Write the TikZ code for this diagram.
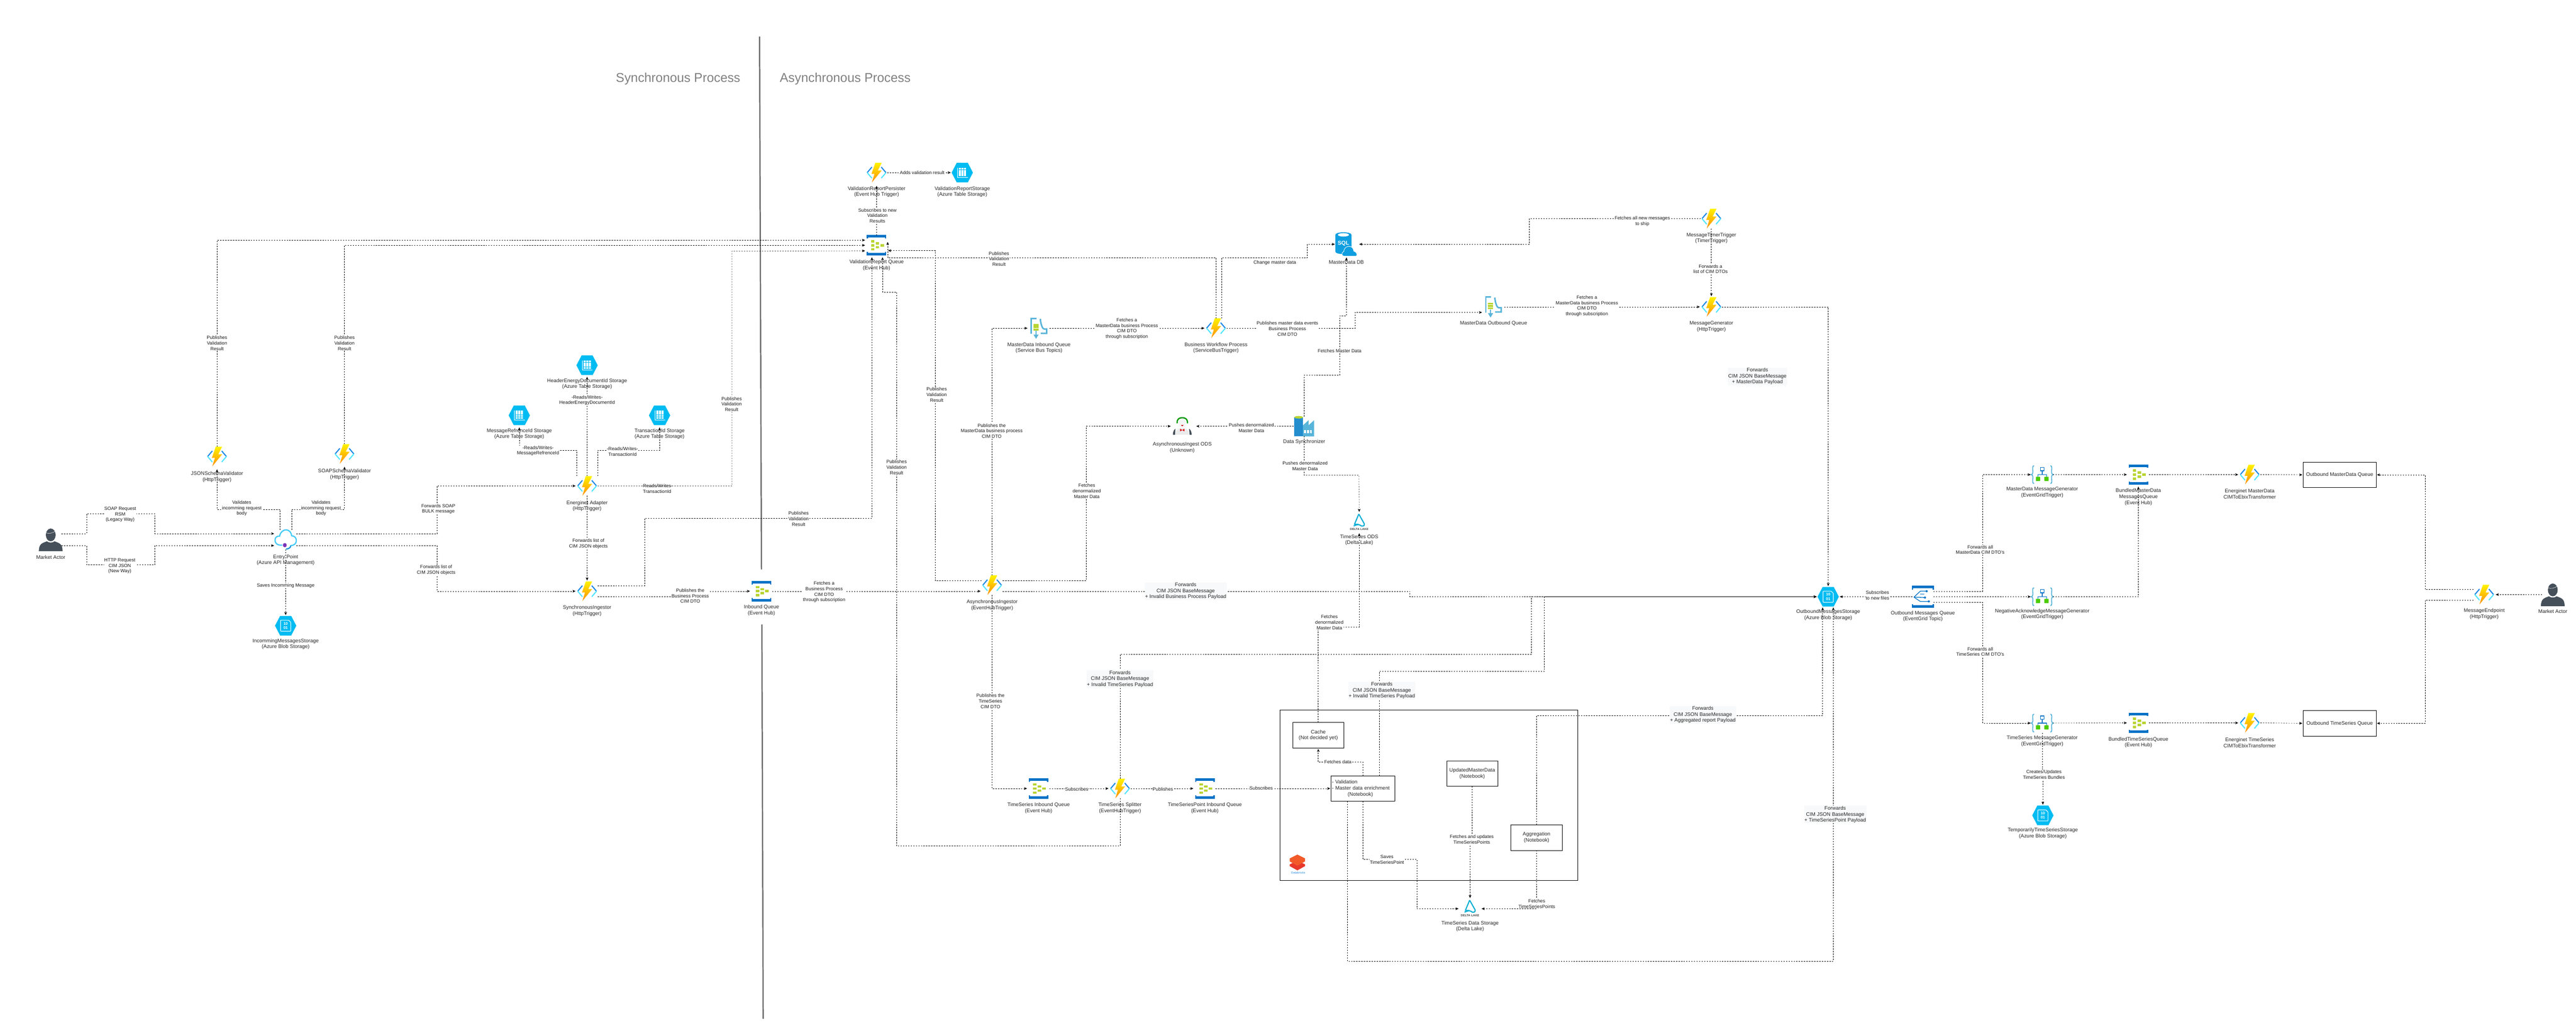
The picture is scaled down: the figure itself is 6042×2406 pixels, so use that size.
\documentclass[tikz,border=0pt]{standalone}
\usepackage{fontspec}
\setmainfont{Liberation Sans}
\usetikzlibrary{arrows.meta}
\definecolor{fnblue}{HTML}{1E88E5}
\definecolor{fncyan}{HTML}{50E6FF}
\definecolor{hubblue}{HTML}{0072C6}
\definecolor{hubgreen}{HTML}{B8D432}
\definecolor{hexcyan}{HTML}{00BCF2}
\definecolor{sbblue}{HTML}{59B4D9}
\definecolor{sqlblue}{HTML}{0F9EE0}
\definecolor{actorgrey}{HTML}{46505A}
\definecolor{deltacyan}{HTML}{00ADD4}
\definecolor{dbxred}{HTML}{E8392B}
\definecolor{dbxorange}{HTML}{F25A29}
\definecolor{dbxblue}{HTML}{2D8CE0}
\definecolor{fwdbg}{HTML}{F8F9FA}
\tikzset{
	iconbox/.style={inner sep=0pt,outer sep=0pt,minimum width=50pt,minimum height=46pt},
	nodetext/.style={font=\fontsize{12}{14}\selectfont,align=center,text=black!85,inner sep=0pt},
	nbox/.style={draw,line width=0.9pt,inner sep=2pt,outer sep=0pt,font=\fontsize{12}{14}\selectfont,align=center,text=black!85},
	flow/.style={line width=0.75pt,dash pattern=on 3pt off 3pt,shorten >=2pt,-{Stealth[length=7pt,width=6pt,inset=1.5pt]}},
	elabel/.style={font=\fontsize{11}{13}\selectfont,align=center,fill=white,inner sep=1pt,text=black!90},
	fwdlabel/.style={font=\fontsize{12}{14}\selectfont,align=center,fill=fwdbg,inner sep=1pt,text=black!85},
	divider/.style={line width=3pt,color=black!58},
	azfn/.pic={
		\draw[line width=2.6pt,fnblue] (-11,-13) -- (-22,0);
		\draw[line width=2.6pt,fncyan] (-22,0) -- (-11,13);
		\draw[line width=2.6pt,fnblue] (11,-13) -- (22,0);
		\draw[line width=2.6pt,fncyan] (22,0) -- (11,13);
		\shade[top color=yellow!90!orange,bottom color=orange!90!yellow] (-3,-23) -- (12,-23) -- (3,-5) -- (12,-5) -- (-11,23) -- (-5,3) -- (-12,3) -- cycle;
	},
	hubicon/.pic={
		\fill[hubblue] (-23,-24) rectangle (23,-18);
		\fill[hubblue] (-23,-18) rectangle (-20,-16);
		\fill[hubblue] (20,-18) rectangle (23,-16);
		\fill[hubblue] (-23,24) rectangle (23,18);
		\fill[hubblue] (-23,18) rectangle (-20,16);
		\fill[hubblue] (20,18) rectangle (23,16);
		\foreach \px/\py in {-9/-9.5,-9/0,-9/9.5,2/-4.7,2/4.7,13/0}
			\fill[hubgreen] (\px-4,\py-2.8) rectangle (\px+4,\py+2.8);
	},
	hexbase/.pic={
		\fill[hexcyan] (-25,0) -- (-13,-23) -- (13,-23) -- (25,0) -- (13,23) -- (-13,23) -- cycle;
	},
	blobicon/.pic={
		\pic {hexbase};
		\draw[white,line width=1.2pt,rounded corners=1pt] (-12,-13) -- (7,-13) -- (12,-8) -- (12,13) -- (-12,13) -- cycle;
		\node[font=\fontsize{9}{10}\selectfont\bfseries,text=white,align=center,inner sep=0pt] (t) at (0,0) {10\\01};
	},
	tableicon/.pic={
		\pic {hexbase};
		\draw[white,line width=1.2pt] (-11,-11) -- (-11,11) -- (13,11);
		\foreach \px in {-8,-2,4}
			\foreach \py in {-11,-6,-1,4}
				\fill[white] (\px,\py) rectangle (\px+5,\py+4);
	},
	apimicon/.pic={
		\draw[line width=2.8pt,fncyan!70!fnblue] (-8,13) .. controls (-20,14) and (-25,8) .. (-25,1) .. controls (-25,-6) and (-19,-9) .. (-14,-8) .. controls (-13,-18) and (-5,-23) .. (1,-23) .. controls (9,-23) and (14,-15) .. (14,-9) .. controls (21,-9) and (25,-4) .. (25,2) .. controls (25,9) and (20,14) .. (12,14);
		\draw[line width=2.8pt,hubblue!70!fncyan] (1,22) .. controls (8,22) and (12,18) .. (12,14);
		\fill[violet!70!blue!80] (-2,13) ellipse (4.5 and 5);
	},
	topicq/.pic={
		\draw[line width=3.5pt,sbblue] (-18,13) -- (-18,-23) -- (-6,-23);
		\draw[line width=3.5pt,sbblue] (3,-22) .. controls (4,-10) and (8,2) .. (12,2) -- (18,2) -- (18,12) -- (4,12);
		\foreach \py in {-10,-4.5,1}
			\fill[hubgreen] (-13,\py) rectangle (-1,\py+4.5);
		\draw[line width=3pt,sbblue] (-7,6) -- (-7,16);
		\fill[sbblue] (-13,15) -- (-1,15) -- (-7,25) -- cycle;
	},
	actoricon/.pic={
		\fill[actorgrey] (-28,27) .. controls (-27,10) and (-22,9) .. (-9,4) .. controls (-4,8) and (4,8) .. (9,4) .. controls (22,9) and (27,10) .. (28,27) -- cycle;
		\fill[actorgrey] (0,-11) ellipse (11.5 and 15);
		\draw[white,line width=0.6pt] (-11,-16) .. controls (-5,-13) and (4,-15) .. (11,-20);
	},
	sqlicon/.pic={
		\fill[sqlblue] (-26,-22) -- (-26,17) .. controls (-26,22) and (-15,23) .. (-7,23) .. controls (2,23) and (12,22) .. (12,17) -- (12,-22) .. controls (12,-30) and (-26,-30) .. (-26,-22) -- cycle;
		\fill[white] (-7,-22) ellipse (13 and 4);
		\node[font=\fontsize{13}{13}\selectfont\bfseries,text=white,inner sep=0pt] (t) at (-7,-2) {SQL};
		\fill[sqlblue,draw=white,line width=1pt] (-6,28) .. controls (-12,28) and (-12,18) .. (-6,17) .. controls (-6,8) and (2,4) .. (8,5) .. controls (14,6) and (17,12) .. (17,16) .. controls (24,17) and (28,28) .. (22,28) -- cycle;
	},
	deltaicon/.pic={
		\draw[line width=2.6pt,deltacyan,line join=round] (-1,-20) -- (-11,4) -- (-2,4);
		\draw[line width=2.6pt,deltacyan,line join=round] (-1,-20) -- (12,3) .. controls (13,9) and (6,10) .. (2,6) .. controls (-2,3) and (-8,6) .. (-13,8);
		\node[font=\fontsize{7}{7}\selectfont\bfseries,text=black!75,inner sep=0pt] (t) at (0,16) {DELTA LAKE};
	},
	factoryicon/.pic={
		\fill[sbblue] (-3,24) -- (-3,-2) -- (10,-14) -- (10,-2) -- (23,-14) -- (23,24) -- cycle;
		\fill[hubblue!60!sbblue] (-23,-21) rectangle (-3,24);
		\fill[hubgreen] (-13,-21) ellipse (10 and 3);
		\foreach \px in {0,7,14}
			\fill[white] (\px,9) rectangle (\px+4,16);
	},
	logicicon/.pic={
		\draw[line width=2.2pt,sbblue] (-19,-21) .. controls (-24,-21) and (-22,-14) .. (-22,-6) .. controls (-22,-2) and (-24,0) .. (-26,0) .. controls (-24,0) and (-22,2) .. (-22,6) .. controls (-22,14) and (-24,21) .. (-19,21);
		\draw[line width=2.2pt,sbblue] (19,-21) .. controls (24,-21) and (22,-14) .. (22,-6) .. controls (22,-2) and (24,0) .. (26,0) .. controls (24,0) and (22,2) .. (22,6) .. controls (22,14) and (24,21) .. (19,21);
		\draw[line width=1.4pt,hubblue] (-10,6) -- (-10,0) -- (10,0) -- (10,6);
		\draw[line width=1.4pt,hubblue] (0,0) -- (0,-9);
		\draw[line width=1.8pt,hubblue,fill=white] (-4,-17) rectangle (4,-9);
		\fill[green!50!lime!80!black,rounded corners=1pt] (-15,5) rectangle (-5,15);
		\fill[green!50!lime!80!black,rounded corners=1pt] (5,5) rectangle (15,15);
	},
	gridicon/.pic={
		\fill[hubblue] (-26,-26) rectangle (26,-20);
		\fill[hubblue] (-26,-20) rectangle (-23,-17);
		\fill[hubblue] (23,-20) rectangle (26,-17);
		\fill[hubblue] (-26,26) rectangle (26,20);
		\fill[hubblue] (-26,20) rectangle (-23,17);
		\fill[hubblue] (23,20) rectangle (26,17);
		\draw[line width=1.6pt,hubblue] (-21,1) -- (-6,-13) -- (9,-13);
		\draw[line width=1.6pt,hubblue] (-21,1) -- (5,2);
		\draw[line width=1.6pt,hubblue] (-21,1) -- (-6,11) -- (14,11);
		\draw[line width=1.6pt,hubblue] (-6,-6) -- (3,-6);
		\foreach \px/\py in {9/-13,5/2,14/11}
			\fill[hubblue] (\px,\py) circle (2.5);
	},
	jokericon/.pic={
		\fill[black!8] (-15,20) .. controls (-16,8) and (-8,4) .. (0,4) .. controls (8,4) and (16,8) .. (15,20) -- cycle;
		\fill[actorgrey] (-22,20) .. controls (-22,14) and (-20,8) .. (-16,6) -- (-17,20) -- cycle;
		\fill[actorgrey] (22,20) .. controls (22,14) and (20,8) .. (16,6) -- (17,20) -- cycle;
		\fill[black!4] (0,-8) ellipse (9 and 11);
		\draw[line width=3pt,green!60!black] (-12,-7) .. controls (-13,-16) and (-8,-20) .. (0,-20) .. controls (8,-20) and (13,-16) .. (12,-7);
		\fill[red!80!black] (-3,-3) -- (3,-3) -- (0,0) -- cycle;
		\fill[red!85!black] (-5,6) -- (0,9) -- (5,6) -- (5,12) -- (0,9) -- (-5,12) -- cycle;
	},
	dbxicon/.pic={
		\fill[dbxred] (0,-4) -- (18,5) -- (18,9) -- (0,19) -- (-18,9) -- (-18,5) -- cycle;
		\fill[dbxorange] (0,-18) -- (18,-9) -- (18,-2) -- (0,8) -- (-18,-2) -- (-18,-9) -- cycle;
	},
}
\newcommand{\azicon}[6]{
	\node[iconbox] (#2) at (#3,#4) {};
	\pic (#2ic) at (#2) {#1};
	\node[nodetext] (#2txt) at (#3,#5) {#6};
}

\begin{document}
\begin{tikzpicture}[x=1pt,y=-1pt]
	\useasboundingbox (0,0) rectangle (6042,2406);
	%%%%% PROCESS SPLIT %%%%%
	\coordinate (divtop) at (1781.5,86);
	\coordinate (divmid) at (1786,1336);
	\coordinate (divlow) at (1787,1465);
	\coordinate (divend) at (1790,2390);
	\draw[divider] (divtop) -- (divmid);
	\draw[divider] (divlow) -- (divend);
	\node[font=\fontsize{30}{34}\selectfont,text=black!50,inner sep=0pt] (synctitle) at (1590.5,185) {Synchronous Process};
	\node[font=\fontsize{30}{34}\selectfont,text=black!50,inner sep=0pt] (asynctitle) at (1982.5,185) {Asynchronous Process};

	%%%%% ICONS %%%%%
	\azicon{actoricon}{actorl}{119}{1266}{1307}{Market Actor}
	\azicon{azfn}{jsonfn}{509}{1071}{1119}{JSONSchemaValidator\\(HttpTrigger)}
	\azicon{azfn}{soapfn}{808}{1065}{1113}{SOAPSchemaValidator\\(HttpTrigger)}
	\azicon{apimicon}{entry}{670}{1266}{1314}{Entry Point\\(Azure API Management)}
	\azicon{blobicon}{inblob}{670}{1468}{1511}{IncommingMessagesStorage\\(Azure Blob Storage)}
	\azicon{tableicon}{headertbl}{1377}{857}{901}{HeaderEnergyDocumentId Storage\\(Azure Table Storage)}
	\azicon{tableicon}{msgtbl}{1218}{974.5}{1018}{MessageRefrenceId Storage\\(Azure Table Storage)}
	\azicon{tableicon}{txtbl}{1547}{974.5}{1018}{TransactionId Storage\\(Azure Table Storage)}
	\azicon{azfn}{adapter}{1377}{1140}{1187}{Energinet Adapter\\(HttpTrigger)}
	\azicon{azfn}{sync}{1377}{1387}{1433}{SynchronousIngestor\\(HttpTrigger)}
	\azicon{hubicon}{inq}{1786}{1387}{1432}{Inbound Queue\\(Event Hub)}
	\azicon{azfn}{persister}{2056}{405}{450}{ValidationReportPersister\\(Event Hub Trigger)}
	\azicon{tableicon}{vrstore}{2257}{405}{450}{ValidationReportStorage\\(Azure Table Storage)}
	\azicon{hubicon}{vrq}{2056}{575.5}{622}{ValidationReport Queue\\(Event Hub)}
	\azicon{topicq}{mdinq}{2437}{770}{816}{MasterData Inbound Queue\\(Service Bus Topics)}
	\azicon{azfn}{bwf}{2852}{770}{816}{Business Workflow Process\\(ServiceBusTrigger)}
	\azicon{sqlicon}{mddb}{3158}{573}{615}{MasterData DB}
	\azicon{azfn}{timer}{4014}{513}{559}{MessageTimerTrigger\\(TimerTrigger)}
	\azicon{azfn}{msggen}{4014}{720}{766}{MessageGenerator\\(HttpTrigger)}
	\azicon{topicq}{mdoutq}{3503}{720}{759}{MasterData Outbound Queue}
	\azicon{factoryicon}{dsync}{3059}{1000}{1036.6}{Data Synchronizer}
	\azicon{jokericon}{ods}{2773}{1000}{1050}{AsynchronousIngest ODS\\(Unknown)}
	\azicon{azfn}{asynci}{2327}{1373}{1420}{AsynchronousIngestor\\(EventHubTrigger)}
	\azicon{deltaicon}{tsods}{3188}{1226}{1267}{TimeSeries ODS\\(Delta Lake)}
	\azicon{hubicon}{tsinq}{2436}{1850}{1896}{TimeSeries Inbound Queue\\(Event Hub)}
	\azicon{azfn}{split}{2627}{1850}{1896}{TimeSeries Splitter\\(EventHubTrigger)}
	\azicon{hubicon}{tspq}{2826}{1850}{1896}{TimeSeriesPoint Inbound Queue\\(Event Hub)}
	\azicon{deltaicon}{tsstore}{3448}{2132}{2173}{TimeSeries Data Storage\\(Delta Lake)}
	\azicon{blobicon}{outstore}{4288}{1400}{1442.6}{OutboundMessagesStorage\\(Azure Blob Storage)}
	\azicon{gridicon}{topic}{4510}{1400}{1446}{Outbound Messages Queue\\(EventGrid Topic)}
	\azicon{logicicon}{mdgen}{4790}{1113.5}{1155.6}{MasterData MessageGenerator\\(EventGridTrigger)}
	\azicon{logicicon}{nagen}{4790}{1400}{1441}{NegativeAcknowledgeMessageGenerator\\(EventGridTrigger)}
	\azicon{logicicon}{tsgen}{4790}{1696.5}{1738.5}{TimeSeries MessageGenerator\\(EventGridTrigger)}
	\azicon{hubicon}{bmd}{5015.5}{1113.5}{1166}{BundledMasterData\\MessagesQueue\\(Event Hub)}
	\azicon{hubicon}{bts}{5015.5}{1696}{1741.7}{BundledTimeSeriesQueue\\(Event Hub)}
	\azicon{blobicon}{tmpstore}{4791.5}{1913}{1955}{TemporarilyTimeSeriesStorage\\(Azure Blob Storage)}
	\azicon{azfn}{emd}{5276.6}{1113.5}{1159}{Energinet MasterData\\CIMToEbixTransformer}
	\azicon{azfn}{ets}{5276.6}{1696}{1742.6}{Energinet TimeSeries\\CIMToEbixTransformer}
	\azicon{azfn}{endpoint}{5826.6}{1395}{1440.6}{MessageEndpoint\\(HttpTrigger)}
	\azicon{actoricon}{actorr}{5987.5}{1395}{1433.7}{Market Actor}

	%%%%% BOXES %%%%%
	\node[nbox,minimum width=699pt,minimum height=400pt] (dbxarea) at (3351.5,1866) {};
	\node[nbox,minimum width=120pt,minimum height=60pt] (cache) at (3092,1725) {Cache\\(Not decided yet)};
	\node[nbox,minimum width=150pt,minimum height=60pt,text width=146pt,align=left] (validbox) at (3197,1850) {- Validation\\- Master data enrichment\\\hspace*{37pt}(Notebook)};
	\node[nbox,minimum width=120pt,minimum height=60pt] (updmd) at (3453,1815) {UpdatedMasterData\\(Notebook)};
	\node[nbox,minimum width=120pt,minimum height=60pt] (agg) at (3604,1965) {Aggregation\\(Notebook)};
	\node[nbox,minimum width=171pt,minimum height=60pt] (obmd) at (5487.5,1114) {Outbound MasterData Queue};
	\node[nbox,minimum width=171pt,minimum height=60pt] (obts) at (5487.5,1697) {Outbound TimeSeries Queue};
	\node[iconbox] (dbxlogo) at (3043,2023) {};
	\pic at (dbxlogo) {dbxicon};
	\node[font=\fontsize{7}{8}\selectfont,text=dbxblue,inner sep=0pt] (dbxlogotxt) at (3045,2048) {Databricks};

	%%%%% SYNCHRONOUS SIDE %%%%%
	\draw[flow] ([yshift=14pt]actorl.east) -| (203,1205) -| (363,1252) -- ([yshift=14pt]entry.west);
	\draw[flow] ([yshift=-14pt]actorl.east) -| (203,1325) -| (363,1280) -- ([yshift=-14pt]entry.west);
	\draw[flow] ([xshift=-13pt]entry.north) |- (509,1195) -- ([yshift=-5pt]jsonfn.south);
	\draw[flow] ([xshift=14pt]entry.north) |- (808,1195) -- ([yshift=-5pt]soapfn.south);
	\draw[flow] (entry.south) -- (inblob.north);
	\draw[flow] ([yshift=14pt]entry.east) -| (1025,1140) -- (adapter.west);
	\draw[flow] ([yshift=-14pt]entry.east) -| (1025,1387) -- (sync.west);
	\draw[flow] (adapter.north) -- ([yshift=-2pt]headertbl.south);
	\draw[flow] ([xshift=-25pt]adapter.north) |- (1218,1056) -- ([yshift=-3pt]msgtbl.south);
	\draw[flow] ([xshift=25pt]adapter.north) |- (1547,1056) -- ([yshift=-3pt]txtbl.south);
	\draw[flow] (adapter.east) -| (1717,589) -- ([yshift=-13pt]vrq.west);
	\draw[flow] (jsonfn.north) |- ([yshift=12pt]vrq.west);
	\draw[flow] (soapfn.north) |- (vrq.west);
	\draw[flow] (adapter.south) -- (sync.north);
	\draw[flow] ([yshift=13pt]sync.east) -| (1512,1216) -| ([xshift=-11pt,yshift=-3pt]vrq.south);
	\draw[flow] ([yshift=-13pt]sync.east) -| (1619,1387) -- (inq.west);
	\draw[flow] (inq.east) -- ([yshift=-14pt]asynci.west);

	%%%%% ASYNCHRONOUS SIDE %%%%%
	\draw[flow] ([yshift=11pt]asynci.west) -| (2193,588) -- ([yshift=-12.5pt]vrq.east);
	\draw[flow] (asynci.north) |- (mdinq.west);
	\draw[flow] ([yshift=11pt]asynci.east) -| (2548,1000) -- (ods.west);
	\draw[flow] (dsync.west) -- ([xshift=6pt]ods.east);
	\draw[flow] ([yshift=-14pt]asynci.east) -- (3307,1387) |- (outstore.west);
	\draw[flow] (asynci.south) |- (tsinq.west);
	\draw[flow] (tsinq.east) -- (split.west);
	\draw[flow] (split.east) -- (tspq.west);
	\draw[flow] (tspq.east) -- (validbox.west);
	\draw[flow] (split.north) |- (3592,1535) |- (outstore.west);
	\draw[flow] (split.south) |- (2103,1985) |- (2070,685) -- ([xshift=14pt,yshift=-3pt]vrq.south);
	\draw[flow] (vrq.north) -- ([yshift=-6pt]persister.south);
	\draw[flow] (persister.east) -- (vrstore.west);
	\draw[flow] (bwf.north) |- (2082,605) -- ([xshift=1pt,yshift=10pt]vrq.east);
	\draw[flow] ([xshift=13pt]bwf.north) |- (3066,605) |- (mddb.west);
	\draw[flow] (bwf.east) -| (3178,733) -- ([yshift=-13pt]mdoutq.west);
	\draw[flow] (mdinq.east) -- (bwf.west);
	\draw[flow] (mdoutq.east) -- (msggen.west);
	\draw[flow] (timer.west) -| (3587,573) -- ([xshift=3pt]mddb.east);
	\draw[flow] (timer.south) -- (msggen.north);
	\draw[flow] (msggen.east) -| (outstore.north);
	\draw[flow] (dsync.north) |- (3142,880) |- (3158,741) -- ([yshift=-6pt]mddb.south);
	\draw[flow] (dsync.south) |- (3187.5,1115) -- (tsods.north);
	\draw[flow] (cache.north) |- (3188,1471) -- (tsods.south);
	\draw[flow] (validbox.north) |- (3092,1788) -- (cache.south);
	\draw[flow] ([xshift=38pt]validbox.north) |- (3622.5,1575) |- (outstore.west);
	\draw[flow] (validbox.south) |- (3323,2016) |- (tsstore.west);
	\draw[flow] ([xshift=-37pt]validbox.south) |- (4300,2255) -- ([xshift=12pt]outstore.south);
	\draw[flow] (updmd.south) |- (3448,1969) -- (tsstore.north);
	\draw[flow] (agg.south) |- (tsstore.east);
	\draw[flow] (agg.north) |- (4275,1679) -- ([xshift=-13pt]outstore.south);
	\draw[flow] (topic.west) -- (outstore.east);
	\draw[flow] ([yshift=13pt]topic.east) -| (4650,1113.5) -- (mdgen.west);
	\draw[flow] (topic.east) -- (nagen.west);
	\draw[flow] ([yshift=-12.5pt]topic.east) -| (4650,1696.5) -- (tsgen.west);
	\draw[flow] (mdgen.east) -- (bmd.west);
	\draw[flow] (nagen.east) -| ([yshift=-3pt]bmd.south);
	\draw[flow] (tsgen.east) -- (bts.west);
	\draw[flow] (tsgen.south) |- (4791.5,1805) -- (tmpstore.north);
	\draw[flow] (bmd.east) -- (emd.west);
	\draw[flow] (bts.east) -- (ets.west);
	\draw[flow] (emd.east) -- (obmd.west);
	\draw[flow] (ets.east) -- (obts.west);
	\draw[flow] ([yshift=12pt]endpoint.west) -| (5688,1114) -- (obmd.east);
	\draw[flow] ([yshift=-13pt]endpoint.west) -| (5688,1697) -- (obts.east);
	\draw[flow] (actorr.west) -- (endpoint.east);

	%%%%% LABELS %%%%%
	\node[elabel] (lblsoap) at (282,1207) {SOAP Request\\RSM\\(Legacy Way)};
	\node[elabel] (lblhttp) at (281,1328) {HTTP Request\\CIM JSON\\(New Way)};
	\node[elabel] (lblvaljson) at (567,1192.5) {Validates\\incomming request\\body};
	\node[elabel] (lblvalsoap) at (753,1192.5) {Validates\\incomming request\\body};
	\node[elabel] (lblsave) at (670,1374) {Saves Incomming Message};
	\node[elabel] (lblbulk) at (1028,1194) {Forwards SOAP\\BULK message};
	\node[elabel] (lbllist) at (1023,1337) {Forwards list of\\CIM JSON objects};
	\node[elabel] (lblhdr) at (1377,939) {-Reads/Writes-\\HeaderEnergyDocumentId};
	\node[elabel] (lblmsg) at (1262,1057.5) {-Reads/Writes-\\MessageRefrenceId};
	\node[elabel] (lbltx) at (1460,1059) {-Reads/Writes-\\TransactionId};
	\node[elabel,fill=none] (lbltxb) at (1541,1146) {-Reads/Writes-\\TransactionId};
	\node[elabel] (lblpubjson) at (509,805) {Publishes\\Validation\\Result};
	\node[elabel] (lblpubsoap) at (808,805) {Publishes\\Validation\\Result};
	\node[elabel] (lblpubad) at (1716,948) {Publishes\\Validation\\Result};
	\node[elabel] (lbllistb) at (1380,1276) {Forwards list of\\CIM JSON objects};
	\node[elabel] (lblpubsync) at (1873,1217) {Publishes\\Validation\\Result};
	\node[elabel] (lblpubbp) at (1619,1398) {Publishes the\\Business Process\\CIM DTO};
	\node[elabel] (lblfetchbp) at (1933,1389) {Fetches a\\Business Process\\CIM DTO\\through subscription};
	\node[elabel] (lblsubres) at (2058,506) {Subscribes to new\\Validation\\Results};
	\node[elabel] (lbladds) at (2163,405) {Adds validation result};
	\node[elabel] (lblpubwf) at (2343,607.5) {Publishes\\Validation\\Result};
	\node[elabel] (lblpubas) at (2197,926) {Publishes\\Validation\\Result};
	\node[elabel] (lblpubsplit) at (2103,1096) {Publishes\\Validation\\Result};
	\node[elabel] (lblpubmd) at (2326,1011) {Publishes the\\MasterData business process\\CIM DTO};
	\node[elabel] (lblfetchmd) at (2643,771) {Fetches a\\MasterData business Process\\CIM DTO\\through subscription};
	\node[elabel] (lblchange) at (2990,616) {Change master data};
	\node[elabel] (lblevents) at (3019.5,771) {Publishes master data events\\Business Process\\CIM DTO};
	\node[elabel] (lblfetchmdb) at (3722,718) {Fetches a\\MasterData business Process\\CIM DTO\\through subscription};
	\node[elabel] (lbltimer) at (3852,519) {Fetches all new messages\\to ship};
	\node[elabel] (lblfwda) at (4012,631) {Forwards a\\list of CIM DTOs};
	\node[fwdlabel] (lblfwdmd) at (4122,883) {Forwards\\CIM JSON BaseMessage\\+ MasterData Payload};
	\node[elabel] (lblfetchmaster) at (3142,823) {Fetches Master Data};
	\node[elabel] (lblpush) at (2935,1004) {Pushes denormalized\\Master Data};
	\node[elabel] (lblpushb) at (3061,1093) {Pushes denormalized\\Master Data};
	\node[elabel] (lbldenorm) at (2549,1152) {Fetches\\denormalized\\Master Data};
	\node[fwdlabel] (lblinvbp) at (2781,1387) {Forwards\\CIM JSON BaseMessage\\+ Invalid Business Process Payload};
	\node[elabel] (lbldenormb) at (3118,1460) {Fetches\\denormalized\\Master Data};
	\node[fwdlabel] (lblinvts) at (2627,1593) {Forwards\\CIM JSON BaseMessage\\+ Invalid TimeSeries Payload};
	\node[fwdlabel] (lblinvtsb) at (3241,1620) {Forwards\\CIM JSON BaseMessage\\+ Invalid TimeSeries Payload};
	\node[elabel] (lblpubts) at (2323,1645) {Publishes the\\TimeSeries\\CIM DTO};
	\node[elabel] (lblsubq) at (2525.5,1851) {Subscribes};
	\node[elabel] (lblpubp) at (2727.5,1851) {Publishes};
	\node[elabel] (lblsubv) at (2958,1849) {Subscribes};
	\node[elabel] (lblfetchdata) at (3138,1788) {Fetches data};
	\node[elabel] (lblsaves) at (3253,2016.5) {Saves\\TimeSeriesPoint};
	\node[elabel] (lblfetchupd) at (3452,1969) {Fetches and updates\\TimeSeriesPoints};
	\node[elabel] (lblfetchts) at (3604.5,2120.5) {Fetches\\TimeSeriesPoints};
	\node[fwdlabel] (lblaggr) at (3994,1677) {Forwards\\CIM JSON BaseMessage\\+ Aggregated report Payload};
	\node[fwdlabel] (lbltspoint) at (4304.5,1911) {Forwards\\CIM JSON BaseMessage\\+ TimeSeriesPoint Payload};
	\node[elabel] (lblsubfiles) at (4403.5,1397) {Subscribes\\to new files};
	\node[elabel] (lblfwdmdall) at (4644.5,1289.5) {Forwards all\\MasterData CIM DTO's};
	\node[elabel] (lblfwdtsall) at (4644.5,1529) {Forwards all\\TimeSeries CIM DTO's};
	\node[elabel] (lblcreates) at (4794,1817.5) {Creates/Updates\\TimeSeries Bundles};
\end{tikzpicture}
\end{document}
